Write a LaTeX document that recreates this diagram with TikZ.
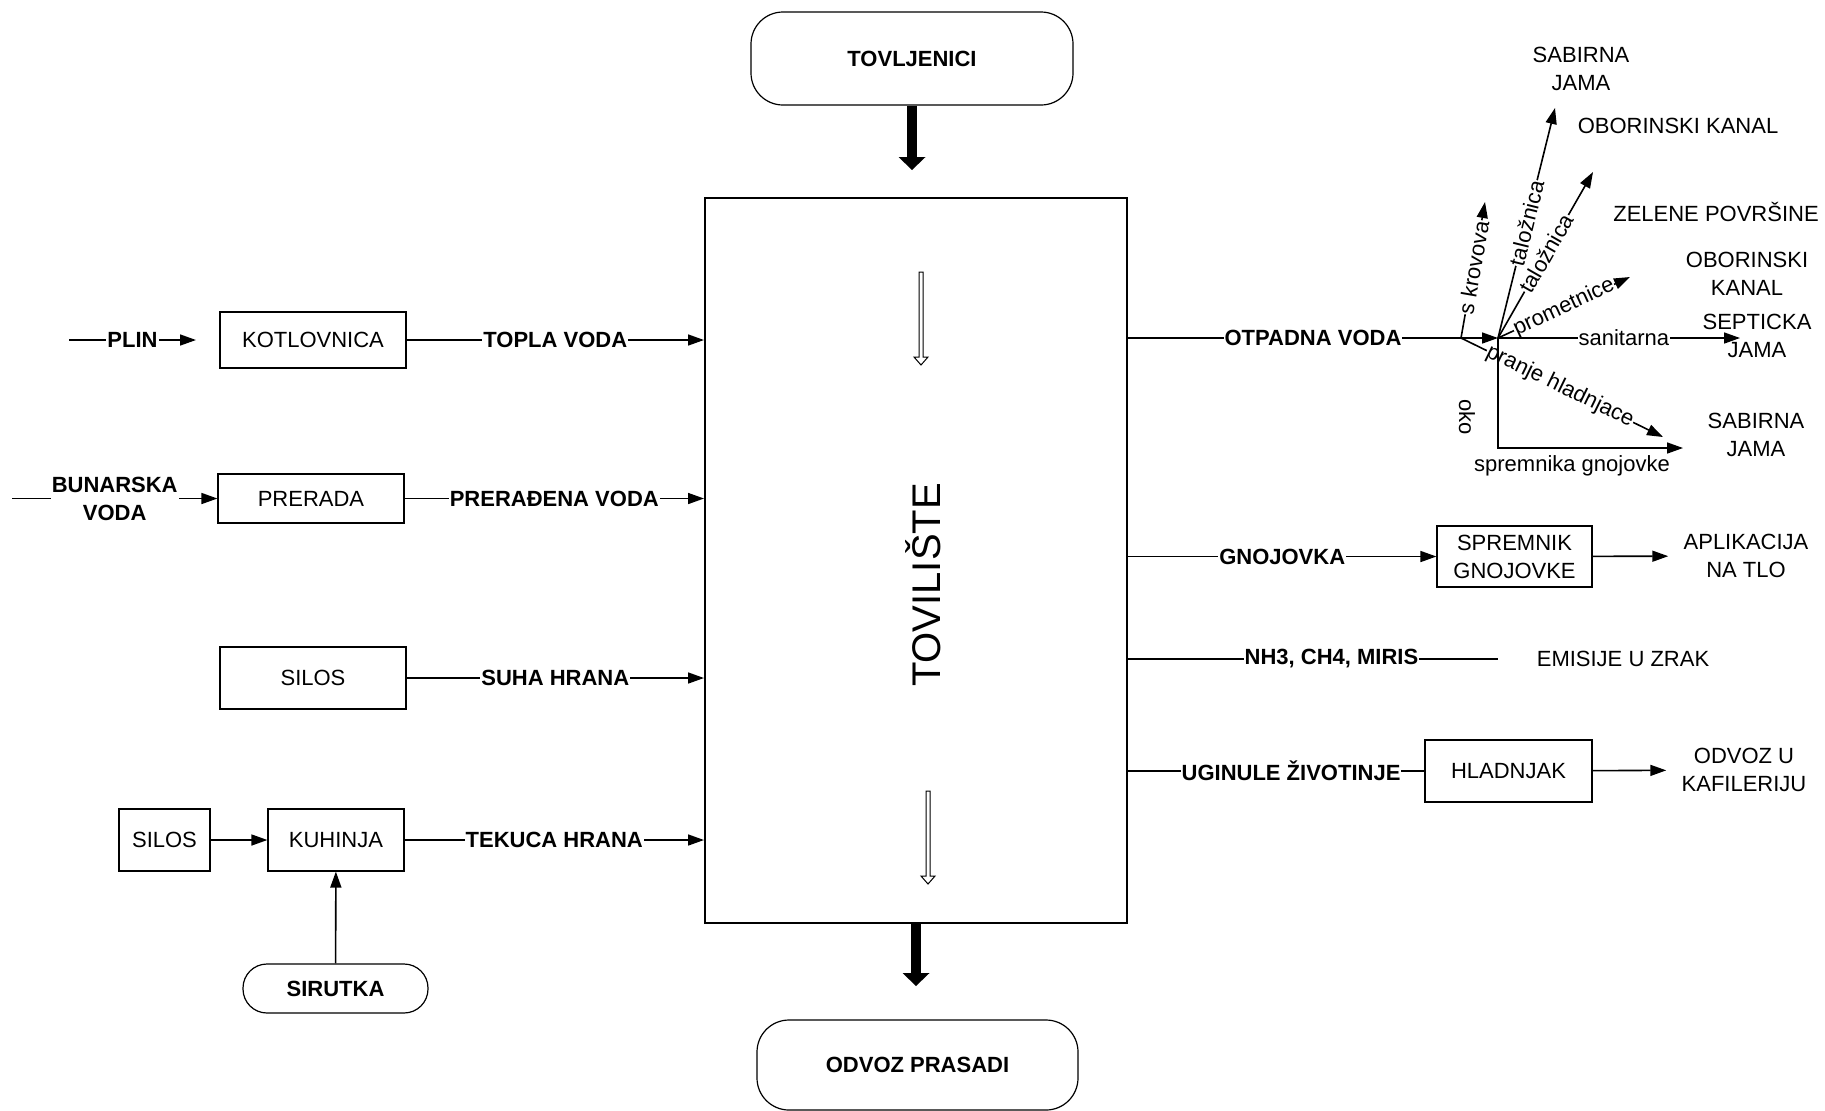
\documentclass[tikz,border=0pt]{standalone}
\usepackage{fontspec}
\setmainfont{Liberation Sans}
\usetikzlibrary{arrows.meta}

\tikzset{
  box/.style={draw, line width=0.6pt, inner sep=2pt, align=center, font=\fontsize{11}{14}\selectfont},
  endbox/.style={draw, line width=0.6pt, rounded corners=16pt, font=\fontsize{11}{14}\selectfont\bfseries},
  flow/.style={line width=0.8pt, -{Triangle[length=8pt,width=5.5pt]}},
  plain/.style={line width=0.8pt},
  bigarrow/.style={line width=5pt, -{Triangle[length=6.5pt,width=13.5pt,line width=0pt]}},
  lbl/.style={fill=white, inner sep=0.5pt, align=center, font=\fontsize{11}{14}\selectfont\bfseries},
  fanlbl/.style={fill=white, inner sep=0.3pt, sloped, font=\fontsize{11}{14}\selectfont},
  target/.style={inner sep=1pt, align=center, font=\fontsize{11}{14}\selectfont},
}

\begin{document}
\begin{tikzpicture}[x=0.5pt,y=-0.5pt]
\useasboundingbox (0,0) rectangle (1825,1110);

% Main building
\node[draw, line width=1pt, minimum width=211pt, minimum height=362.5pt] (tov) at (916,560.5) {};
\node[font=\fontsize{20}{24}\selectfont, rotate=90] (tovtxt) at (923,585) {TOVILIŠTE};

% Flow inside the building
\foreach \x/\ya/\yb in {921/272/365, 928/791/884}
  \draw[line width=0.5pt, fill=white] ({\x-2},\ya) -- ({\x+2},\ya) -- ({\x+2},{\yb-8}) -- ({\x+7},{\yb-8})
    -- (\x,\yb) -- ({\x-7},{\yb-8}) -- ({\x-2},{\yb-8}) -- cycle;

% Animals in and out
\node[endbox, minimum width=161pt, minimum height=46.5pt] (tovlj) at (912,58.5) {TOVLJENICI};
\node[endbox, minimum width=160.5pt, minimum height=45pt] (odvpr) at (917.5,1065) {ODVOZ PRASADI};
\draw[bigarrow] (tovlj) -- (tovlj |- 0,170);
\draw[bigarrow] (tov.south) -- (tov.south |- 0,986);

% Inputs
\node[box, minimum width=93pt, minimum height=28pt] (kotl) at (313,340) {KOTLOVNICA};
\node[box, minimum width=93pt, minimum height=24.5pt] (prer) at (311,498.5) {PRERADA};
\node[box, minimum width=93pt, minimum height=31pt] (silos) at (313,678) {SILOS};
\node[box, minimum width=45.5pt, minimum height=31pt] (silosb) at (164.5,840) {SILOS};
\node[box, minimum width=68pt, minimum height=31pt] (kuh) at (336,840) {KUHINJA};
\node[endbox, rounded corners=12pt, minimum width=92.5pt, minimum height=24.5pt] (sir) at (335.5,988.5) {SIRUTKA};

\coordinate (plinA) at (69,340);
\coordinate (plinB) at (196,340);
\coordinate (bunA) at (12,498.5);

\draw[flow] (plinA) -- node[lbl]{PLIN} (plinB);
\draw[flow] (bunA) -- node[lbl]{BUNARSKA\\VODA} (prer);
\draw[flow] (kotl) -- node[lbl]{TOPLA VODA} (kotl -| tov.west);
\draw[flow] (prer) -- node[lbl]{PRERAĐENA VODA} (prer -| tov.west);
\draw[flow] (silos) -- node[lbl]{SUHA HRANA} (silos -| tov.west);
\draw[flow] (kuh) -- node[lbl]{TEKUCA HRANA} (kuh -| tov.west);
\draw[flow] (silosb) -- (kuh);
\draw[flow] (sir) -- (kuh);

% Waste water
\coordinate (j1) at (1461,338);
\coordinate (hub) at (1498,338);
\coordinate (krov) at (1485,202);
\coordinate (tal1) at (1555,108);
\coordinate (tal2) at (1593,172);
\coordinate (prom) at (1630,277);
\coordinate (sanit) at (1740,338);
\coordinate (pranje) at (1663,437);
\coordinate (gnojk) at (1498,448);
\coordinate (gnojt) at (1683,448);

\draw[flow] (tov.east |- hub) -- node[lbl]{OTPADNA VODA} (hub);
\draw[flow] (j1) -- node[fanlbl, pos=0.52]{s krovova} (krov);
\draw[flow] (hub) -- node[fanlbl]{taložnica} (tal1);
\draw[flow] (hub) -- node[fanlbl, pos=0.51]{taložnica} (tal2);
\draw[flow] (hub) -- node[fanlbl]{prometnice} (prom);
\draw[flow] (hub) -- node[fanlbl, pos=0.52]{sanitarna} (sanit);
\draw[flow] (j1) -- node[fanlbl, pos=0.49]{pranje hladnjace} (pranje);
\draw[flow] (hub) -- (gnojk) -- (gnojt);
\node[target, rotate=-90] (oko) at (1467,417) {oko};
\node[target] (sprgn) at (1572,466) {spremnika gnojovke};

\node[target] (sab1) at (1581,69) {SABIRNA\\JAMA};
\node[target] (obor1) at (1678,126) {OBORINSKI KANAL};
\node[target] (zel) at (1716,212) {ZELENE POVRŠINE};
\node[target] (obor2) at (1747,274) {OBORINSKI\\KANAL};
\node[target] (sept) at (1757,336) {SEPTICKA\\JAMA};
\node[target] (sab2) at (1756,435) {SABIRNA\\JAMA};

% Manure, air, carcasses
\node[box, minimum width=77.5pt, minimum height=30.5pt] (sprem) at (1514.5,556.5) {SPREMNIK\\GNOJOVKE};
\node[target] (aplik) at (1746,556) {APLIKACIJA\\NA TLO};
\draw[flow] (tov.east |- sprem) -- node[lbl]{GNOJOVKA} (sprem);
\draw[flow, shorten >=6.5pt] (sprem) -- (aplik);

\coordinate (emend) at (1498,659);
\node[target] (emis) at (1623,659) {EMISIJE U ZRAK};
\draw[plain] (tov.east |- emend) -- node[lbl, pos=0.55]{NH3, CH4, MIRIS} (emend);

\node[box, minimum width=83.5pt, minimum height=31pt] (hlad) at (1508.5,771) {HLADNJAK};
\node[target] (odvoz) at (1744,770) {ODVOZ U\\KAFILERIJU};
\draw[plain] (tov.east |- hlad) -- node[lbl, pos=0.55]{UGINULE ŽIVOTINJE} (hlad);
\draw[flow, shorten >=6.5pt] (hlad) -- (odvoz);

\end{tikzpicture}
\end{document}
